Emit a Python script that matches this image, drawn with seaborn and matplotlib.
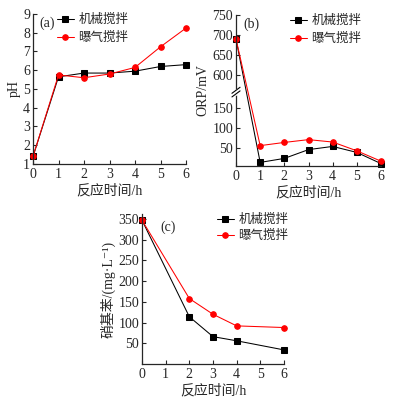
import numpy as np
import matplotlib
matplotlib.use("Agg")
import matplotlib.pyplot as plt
import seaborn as sns

# ---- data ----
labels = ["机械搅拌", "曝气搅拌"]
colors = ["black", "red"]
markers = ["s", "o"]

time_ab = [0, 1, 2, 3, 4, 5, 6]
ph_mech = [1.4, 5.65, 5.85, 5.85, 5.95, 6.2, 6.3]
ph_aer = [1.4, 5.75, 5.6, 5.8, 6.15, 7.25, 8.25]

orp_mech = [690, 14, 24, 46, 54, 39, 11]
orp_aer = [690, 56, 64, 71, 65, 43, 17]

time_c = [0, 2, 3, 4, 6]
nb_mech = [347, 114, 66, 56, 34]
nb_aer = [347, 158, 120, 92, 88]

xticks = [0, 1, 2, 3, 4, 5, 6]
ph_ticks = [1, 2, 3, 4, 5, 6, 7, 8, 9]
orp_ticks = [50, 100, 150, 600, 650, 700, 750]
nb_ticks = [50, 100, 150, 200, 250, 300, 350]

xlabel = "反应时间/h"

# ---- style ----
sns.set_style("ticks")
plt.rcParams["font.family"] = ["Liberation Serif", "Noto Sans CJK SC", "DejaVu Sans"]
plt.rcParams["xtick.direction"] = "in"
plt.rcParams["ytick.direction"] = "in"
plt.rcParams["axes.linewidth"] = 0.9
FS = 10
LFS = 9

fig = plt.figure(figsize=(3.93, 4.03), dpi=100)
W, H = 393.0, 403.0

def add_ax(l, r, t, b):
    return fig.add_axes([l / W, (H - b) / H, (r - l) / W, (b - t) / H])

ax_a = add_ax(33, 186, 14, 164)
ax_b = add_ax(236, 381, 15, 166)
ax_c = add_ax(142, 284, 214, 364)


def draw(ax, x, ys):
    for y, lab, c, m in zip(ys, labels, colors, markers):
        sns.lineplot(x=x, y=y, ax=ax, color=c, marker=m, markersize=4,
                     markeredgecolor=c, linewidth=0.75, label=lab)
    for ln in ax.lines:
        ln.set_clip_on(False)


def style(ax):
    sns.despine(ax=ax)
    ax.tick_params(axis="both", labelsize=FS, length=3, width=0.8, pad=2)
    ax.tick_params(axis="x", pad=3)
    ax.set_xlabel(xlabel, fontsize=FS, labelpad=2)


def legend(ax, x0, spacing):
    ax.legend(loc="upper left", bbox_to_anchor=(x0, 1.0), frameon=False,
              fontsize=LFS, handlelength=1.4, handletextpad=0.35,
              labelspacing=spacing, borderpad=0.0, borderaxespad=0.0)


# (a)
draw(ax_a, time_ab, [ph_mech, ph_aer])
ax_a.set_xlim(0, 6)
ax_a.set_ylim(1, 9)
ax_a.set_xticks(xticks)
ax_a.set_yticks(ph_ticks)
ax_a.set_ylabel("pH", fontsize=FS, labelpad=2)
style(ax_a)
legend(ax_a, 0.155, 0.45)
ax_a.text(0.04, 0.985, "(a)", transform=ax_a.transAxes, fontsize=FS, va="top", ha="left")

# (b) broken y axis via piecewise scale
LOW, HIGH = 190.0, 557.0
GAP = HIGH - LOW

def fwd(y):
    y = np.asarray(y, dtype=float)
    return np.where(y <= LOW, y, np.where(y >= HIGH, y - GAP, LOW))

def inv(z):
    z = np.asarray(z, dtype=float)
    return np.where(z <= LOW, z, z + GAP)

draw(ax_b, time_ab, [orp_mech, orp_aer])
ax_b.set_yscale("function", functions=(fwd, inv))
ax_b.set_xlim(0, 6)
ax_b.set_ylim(5, 750)
ax_b.set_xticks(xticks)
ax_b.set_yticks(orp_ticks)
ax_b.set_yticklabels([str(t) for t in orp_ticks])
ax_b.yaxis.set_minor_locator(matplotlib.ticker.NullLocator())
ax_b.set_ylabel("ORP/mV", fontsize=FS, labelpad=2)
style(ax_b)
legend(ax_b, 0.37, 0.45)
ax_b.text(0.05, 0.985, "(b)", transform=ax_b.transAxes, fontsize=FS, va="top", ha="left")
# break marks
fb = (LOW - 5) / (750 - GAP - 5)
ax_b.plot([0, 0], [fb - 0.012, fb + 0.012], transform=ax_b.transAxes,
          color="white", lw=2.0, clip_on=False, zorder=5)
for dy in (-0.012, 0.012):
    ax_b.plot([-0.028, 0.028], [fb + dy - 0.02, fb + dy + 0.02],
              transform=ax_b.transAxes, color="black", lw=0.8,
              clip_on=False, zorder=6)

# (c)
draw(ax_c, time_c, [nb_mech, nb_aer])
ax_c.set_xlim(0, 6)
ax_c.set_ylim(0, 362)
ax_c.set_xticks(xticks)
ax_c.set_yticks(nb_ticks)
ax_c.set_ylabel("硝基苯/(mg·L⁻¹)", fontsize=FS, labelpad=2)
style(ax_c)
legend(ax_c, 0.525, 0.3)
ax_c.text(0.13, 0.955, "(c)", transform=ax_c.transAxes, fontsize=FS, va="top", ha="left")

fig.savefig("out.png", dpi=100)
